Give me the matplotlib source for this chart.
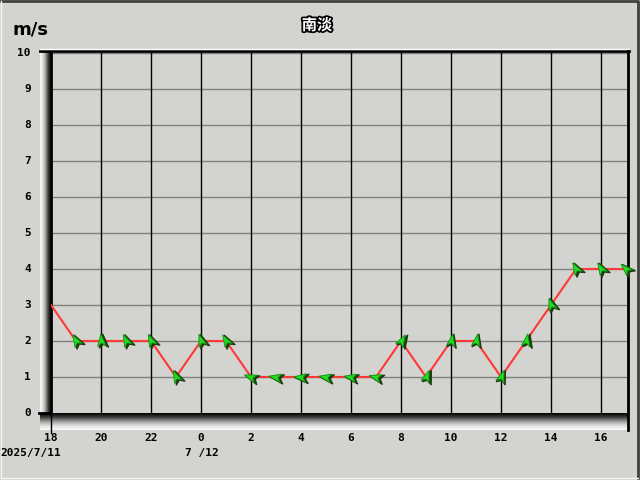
import numpy as np
import matplotlib
matplotlib.use('Agg')
import matplotlib.pyplot as plt
import matplotlib.patheffects as pe
from matplotlib.path import Path
from matplotlib.markers import MarkerStyle
from matplotlib.transforms import Affine2D

#  Datos: velocidad del viento (m/s) por hora, desde 2025/7/11 18:00
horas = list(range(24))
velocidad = [3, 2, 2, 2, 2, 1, 2, 2, 1, 1, 1, 1, 1, 1, 2, 1, 2, 2, 1, 2, 3, 4, 4, 4]
#  Dirección a la que apunta la flecha (grados, 0 = arriba, sentido horario)
direccion = [None, 330, 355, 335, 335, 335, 340, 330, 290, 280, 275, 280, 280, 285,
             30, 20, 10, 10, 20, 10, 340, 330, 330, 315]
etiquetas_x = ['18', '20', '22', '0', '2', '4', '6', '8', '10', '12', '14', '16']
titulo = '南淡'

fondo = '#d3d3cf'
fig = plt.figure(figsize=(6.4, 4.8), dpi=100, facecolor=fondo)

#  Ejes de fondo en pixeles para el marco y los textos
bg = fig.add_axes([0, 0, 1, 1])
bg.set_xlim(0, 640)
bg.set_ylim(480, 0)
bg.axis('off')
bg.set_facecolor(fondo)

# borde exterior
bg.plot([1, 638, 638], [1, 1, 478], color='#404040', lw=2)
bg.plot([1, 1, 638], [1, 478, 478], color='#f4f4f4', lw=1)

# biseles con degradado
grad_h = np.linspace(0, 1, 64).reshape(1, -1)
cmap = matplotlib.colors.LinearSegmentedColormap.from_list(
    'bis', ['#fafafa', '#e0e0e0', '#a0a0a0', '#404040', '#000000'])
bg.imshow(grad_h, extent=[40, 51, 430, 51], cmap=cmap, aspect='auto', zorder=1)
grad_v = np.linspace(1, 0, 64).reshape(-1, 1)
bg.imshow(grad_v, extent=[40, 628, 430, 413], cmap=cmap, aspect='auto', zorder=1)
bg.plot([40, 629], [51, 51], color='black', lw=2, zorder=3)
bg.plot([40, 629], [49, 49], color='white', lw=1, zorder=3)
bg.plot([628, 628], [51, 430], color='black', lw=2, zorder=3)
bg.plot([51, 51], [413, 433], color='black', lw=1, zorder=3)
bg.plot([39, 51], [413, 413], color='black', lw=2, zorder=3)

#  Textos
fuente = ['DejaVu Sans Mono', 'DejaVu Sans']
bg.text(12, 30, 'm/s', fontsize=13, fontweight='bold', ha='left', va='center',
        family='DejaVu Sans')
t = bg.text(317, 25, titulo, fontsize=11, fontweight='bold', color='white',
            ha='center', va='center', family=['Noto Sans CJK JP', 'DejaVu Sans'])
t.set_path_effects([pe.withStroke(linewidth=2.5, foreground='black')])
for v in range(11):
    bg.text(31, 413 - v * 36, str(v), fontsize=8, fontweight='bold',
            ha='right', va='center', family=fuente)
for i, lab in enumerate(etiquetas_x):
    bg.text(51 + i * 50, 438, lab, fontsize=8, fontweight='bold',
            ha='center', va='center', family=fuente)
bg.text(0, 453, '2025/7/11', fontsize=8, fontweight='bold', ha='left',
        va='center', family=fuente)
bg.text(185, 453, '7 /12', fontsize=8, fontweight='bold', ha='left',
        va='center', family=fuente)

#  Gráfico principal
ax = fig.add_axes([51 / 640, 67 / 480, 576 / 640, 360 / 480])
ax.set_facecolor(fondo)
ax.set_xlim(0, 23.04)
ax.set_ylim(0, 10)
for s in ax.spines.values():
    s.set_visible(False)
ax.set_xticks([])
ax.set_yticks([])
for v in range(1, 11):
    ax.axhline(v, color='#808080', lw=1, zorder=1)
for h in range(2, 24, 2):
    ax.axvline(h, color='black', lw=1, zorder=1)
ax.axvline(0, color='black', lw=2, zorder=2)

ax.plot(horas, velocidad, color='#ff3838', lw=1.5, zorder=3)

#  Flechas de dirección
flecha = Path([(0, 1), (0.55, -0.6), (0.0, -0.2), (-0.55, -0.6), (0, 1)],
              [Path.MOVETO, Path.LINETO, Path.LINETO, Path.LINETO, Path.CLOSEPOLY])
for h, v, d in zip(horas, velocidad, direccion):
    if d is None:
        continue
    m = MarkerStyle(flecha, transform=Affine2D().rotate_deg(-d))
    ax.plot(h + 0.06, v - 0.04, marker=m, ms=12, color='#1e3a10',
            mec='#1e3a10', zorder=4, clip_on=False)
    ax.plot(h, v, marker=m, ms=11, color='#22dd22', mec='#109010',
            mew=0.6, zorder=5, clip_on=False)

fig.savefig('out.png', dpi=100, facecolor=fondo)
